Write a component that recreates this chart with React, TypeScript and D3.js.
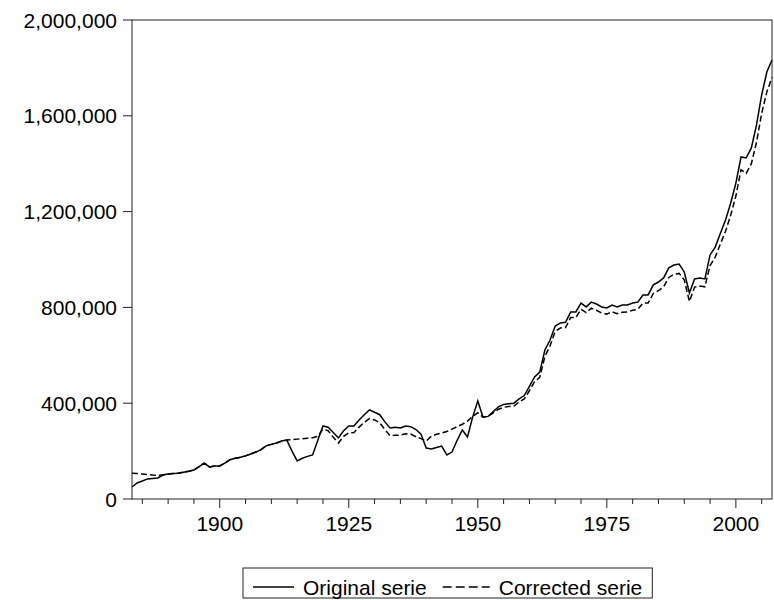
import React, { useEffect, useRef } from 'react';
import * as d3 from 'd3';

// years 1883..2007
const startYear = 1883;
const original = [
  50, 67, 75, 84, 86, 88, 100, 104, 106, 108,
  112, 116, 121, 135, 150, 134, 138, 138, 150, 164,
  170, 174, 180, 188, 196, 206, 222, 228, 234, 242,
  246, 200, 159, 170, 178, 184, 245, 305, 300, 278,
  255, 285, 305, 305, 330, 352, 372, 362, 352, 322,
  297, 300, 297, 305, 302, 290, 271, 213, 209, 215,
  221, 184, 196, 245, 288, 259, 342, 409, 342, 345,
  365, 385, 395, 398, 400, 418, 432, 470, 510, 530,
  622, 664, 722, 735, 738, 781, 781, 818, 802, 822,
  814, 802, 798, 810, 802, 810, 810, 818, 822, 852,
  852, 894, 906, 923, 965, 977, 981, 948, 860, 919,
  923, 919, 1019, 1052, 1110, 1165, 1236, 1319, 1428, 1424,
  1466, 1562, 1687, 1783, 1833,
];
const corrected = [
  108, 106, 104, 102, 100, 99, 101, 104, 106, 108,
  112, 116, 121, 135, 150, 134, 138, 138, 150, 164,
  170, 174, 180, 188, 196, 206, 222, 228, 234, 242,
  246, 248, 250, 252, 254, 256, 262, 292, 285, 258,
  234, 262, 276, 278, 300, 320, 336, 330, 318, 290,
  264, 266, 267, 272, 271, 260, 252, 242, 262, 270,
  276, 282, 292, 302, 312, 325, 345, 360, 342, 345,
  360, 375, 383, 386, 388, 405, 418, 452, 490, 508,
  595, 640, 700, 714, 716, 758, 758, 792, 778, 797,
  788, 776, 772, 782, 774, 780, 781, 788, 792, 818,
  818, 858, 870, 886, 925, 938, 942, 915, 825, 885,
  889, 886, 975, 1010, 1065, 1118, 1185, 1265, 1375, 1360,
  1400, 1490, 1610, 1700, 1760,
];
const yTicks = [0, 400000, 800000, 1200000, 1600000, 2000000];
const xMajorTicks = [1900, 1925, 1950, 1975, 2000];
const xMinorTicks = d3.range(1885, 2007, 5);
const seriesNames = ['Original serie', 'Corrected serie'];

const App = () => {
  const ref = useRef(null);

  useEffect(() => {
    const svg = d3.select(ref.current);
    svg.selectAll('*').remove();

    const left = 132, right = 772, top = 20, bottom = 499;
    const font = 'Liberation Sans, Arial, sans-serif';
    const fs = 21;

    const years = original.map((_, i) => startYear + i);
    const x = d3.scaleLinear().domain([startYear, startYear + original.length - 1]).range([left, right]);
    const y = d3.scaleLinear().domain([0, 2000000]).range([bottom, top]);

    // frame
    svg.append('rect')
      .attr('x', left).attr('y', top)
      .attr('width', right - left).attr('height', bottom - top)
      .attr('fill', 'none').attr('stroke', '#222').attr('stroke-width', 1);

    // y ticks + labels
    yTicks.forEach(t => {
      svg.append('line')
        .attr('x1', left - 9).attr('x2', left)
        .attr('y1', y(t)).attr('y2', y(t))
        .attr('stroke', '#222');
      svg.append('text')
        .attr('x', left - 15).attr('y', y(t))
        .attr('dy', '0.36em')
        .attr('text-anchor', 'end')
        .style('font-family', font).style('font-size', fs + 'px')
        .text(d3.format(',')(t));
    });

    // x ticks
    xMinorTicks.forEach(t => {
      const major = xMajorTicks.includes(t);
      svg.append('line')
        .attr('x1', x(t)).attr('x2', x(t))
        .attr('y1', bottom).attr('y2', bottom + (major ? 9 : 5))
        .attr('stroke', '#222');
    });
    xMajorTicks.forEach(t => {
      svg.append('text')
        .attr('x', x(t)).attr('y', 531)
        .attr('text-anchor', 'middle')
        .style('font-family', font).style('font-size', fs + 'px')
        .text(t);
    });

    const line = d3.line().x((d, i) => x(years[i])).y(d => y(d * 1000));

    svg.append('path')
      .datum(corrected)
      .attr('d', line)
      .attr('fill', 'none').attr('stroke', '#000')
      .attr('stroke-width', 1.5)
      .attr('stroke-dasharray', '6,3');

    svg.append('path')
      .datum(original)
      .attr('d', line)
      .attr('fill', 'none').attr('stroke', '#000')
      .attr('stroke-width', 1.5);

    // legend
    const lg = svg.append('g');
    let cx = 0;
    seriesNames.forEach((name, i) => {
      const sample = lg.append('line')
        .attr('x1', cx + 10).attr('x2', cx + (i ? 57 : 51))
        .attr('y1', 0).attr('y2', 0)
        .attr('stroke', '#000').attr('stroke-width', 1.4);
      if (i) sample.attr('stroke-dasharray', '9,4');
      cx += i ? 57 : 51;
      const txt = lg.append('text')
        .attr('x', cx + 9).attr('y', 0).attr('dy', '0.36em')
        .style('font-family', font).style('font-size', fs + 'px')
        .text(name);
      cx += 9 + txt.node().getComputedTextLength() + 6;
    });
    const boxW = cx + 4;
    lg.insert('rect', ':first-child')
      .attr('x', 0).attr('y', -19)
      .attr('width', boxW).attr('height', 30)
      .attr('fill', 'none').attr('stroke', '#222');
    lg.attr('transform', `translate(${243},${587})`);
  }, []);

  return (
    <svg ref={ref} width={774} height={600}
      style={{ position: 'absolute', left: 0, top: 0, background: '#fff' }} />
  );
};

export default App;
